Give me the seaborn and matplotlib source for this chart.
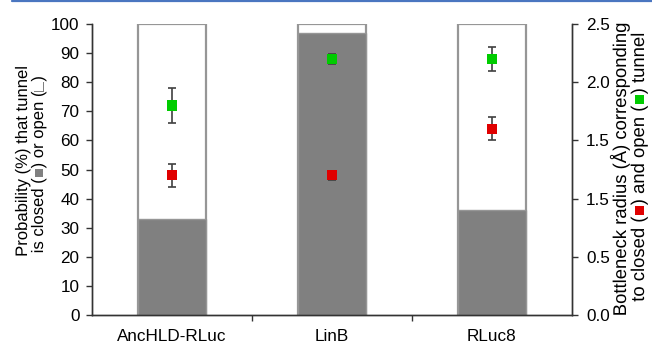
import matplotlib
matplotlib.use("Agg")
import matplotlib.pyplot as plt
from matplotlib import _text_helpers
from matplotlib.lines import Line2D
from matplotlib.patches import PathPatch
from matplotlib.textpath import TextPath
from matplotlib.transforms import Affine2D
from matplotlib.ticker import FixedLocator, FixedFormatter
from matplotlib.font_manager import FontProperties, fontManager, get_font
import seaborn as sns
import pandas as pd

# ── Data ──────────────────────────────────────────────────────────────────
enzymes      = ["AncHLD-RLuc", "LinB", "RLuc8"]
closed_pct   = [33, 97, 36]          # probability (%) tunnel is closed
total_pct    = [100, 100, 100]       # closed + open
radius_open  = [1.8, 2.2, 2.2]       # bottleneck radius (Å), open tunnel
err_open     = [0.15, 0.04, 0.1]
radius_close = [1.2, 1.2, 1.6]       # bottleneck radius (Å), closed tunnel
err_close    = [0.1, 0.04, 0.1]
right_ticks  = [0.0, 0.5, 1.0, 1.5, 2.0, 2.5]
right_labels = ["0.0", "0.5", "1.5", "1.5", "2.0", "2.5"]   # as printed

sns.set_theme(style="ticks")
FAM = ["Liberation Sans", "DejaVu Sans"]
plt.rcParams["font.family"] = FAM

GRAY   = "#808080"
EDGE   = "#969696"
GREEN  = "#00cc00"
RED    = "#e00000"
AXCOL  = "#333333"
TICKFS = 12.3

df = pd.DataFrame({"enzyme": enzymes, "closed": closed_pct, "total": total_pct})

W, H = 652, 344
fig = plt.figure(figsize=(W / 100, H / 100), dpi=100)
ax = fig.add_axes([92 / W, 1 - 315 / H, 480 / W, 291 / H])

# open part (full-height white box) then closed part on top
sns.barplot(data=df, x="enzyme", y="total", color="white", saturation=1,
            edgecolor=EDGE, linewidth=1.6, width=0.42, ax=ax)
sns.barplot(data=df, x="enzyme", y="closed", color=GRAY, saturation=1,
            edgecolor=EDGE, linewidth=1.0, width=0.42, ax=ax)

ax.set_xlim(-0.5, 2.5)
ax.set_ylim(0, 100)
ax.set_yticks(range(0, 101, 10))
ax.set_xlabel("")
ax.set_ylabel("")
ax.spines["top"].set_visible(False)
for s in ["left", "right", "bottom"]:
    ax.spines[s].set_color(AXCOL)
    ax.spines[s].set_linewidth(1.0)
ax.tick_params(axis="x", which="major", length=0, pad=10, labelsize=TICKFS, colors="black")
ax.xaxis.set_minor_locator(FixedLocator([0.5, 1.5]))
ax.tick_params(axis="x", which="minor", length=4, width=1.0, color=AXCOL, direction="out")
ax.tick_params(axis="y", length=4, width=1.0, color=AXCOL, direction="out",
               pad=5, labelsize=TICKFS, labelcolor="black")

# radius points on the right axis
ax2 = ax.twinx()
ax2.set_ylim(0, 2.5)
x = list(range(len(enzymes)))
ax2.errorbar(x, radius_open, yerr=err_open, fmt="none", ecolor="#404040",
             elinewidth=1.2, capsize=3, capthick=1.2, zorder=3)
ax2.errorbar(x, radius_close, yerr=err_close, fmt="none", ecolor="#404040",
             elinewidth=1.2, capsize=3, capthick=1.2, zorder=3)
pts = pd.DataFrame({"x": x * 2, "r": radius_open + radius_close,
                    "kind": ["open"] * 3 + ["closed"] * 3})
sns.scatterplot(data=pts, x="x", y="r", hue="kind", palette={"open": GREEN, "closed": RED},
                marker="s", s=55, linewidth=0, legend=False, ax=ax2, zorder=4)
ax2.set_xlim(-0.5, 2.5)
ax2.set_xlabel("")
ax2.set_ylabel("")
ax2.yaxis.set_major_locator(FixedLocator(right_ticks))
ax2.yaxis.set_major_formatter(FixedFormatter(right_labels))
ax2.tick_params(axis="y", length=4, width=1.0, color=AXCOL, direction="out",
                pad=6, labelsize=TICKFS, labelcolor="black")
ax2.spines["top"].set_visible(False)
for s in ["left", "right", "bottom"]:
    ax2.spines[s].set_color(AXCOL)
    ax2.spines[s].set_linewidth(1.0)


# ── rotated axis labels with coloured square glyphs ───────────────────────
# drawn as text paths so the coloured pieces sit exactly at their pen positions
def vlabel(x_px, yc_px, parts, size=12):
    prop = FontProperties(family=FAM, size=size)
    spx = size * 100 / 72
    font = get_font(fontManager._find_fonts_by_props(prop))
    font.set_size(spx, 72)
    full = "".join(p for p, _ in parts)
    pens = [it.x for it in _text_helpers.layout(full, font)]
    total = TextPath((0, 0), full, size=spx, prop=prop).get_extents().x1
    y0 = (H - yc_px) - total / 2
    tr = Affine2D().rotate_deg(90).translate(x_px, y0)
    i = 0
    for s, c in parts:
        drop = 0.05 * spx if s in "■□" else 0   # centre squares between the brackets
        path = TextPath((pens[i], -drop), s, size=spx, prop=prop)
        i += len(s)
        fig.add_artist(PathPatch(path, transform=tr, facecolor=c,
                                 edgecolor="none", lw=0))


vlabel(27, 162, [("Probability (%) that tunnel", "black")])
vlabel(43, 165, [("is closed (", "black"), ("■", GRAY), (") or open (", "black"),
                 ("□", GRAY), (")", "black")])
vlabel(626, 170, [("Bottleneck radius (Å) corresponding", "black")], size=13.3)
vlabel(644, 168, [("to closed (", "black"), ("■", RED), (") and open (", "black"),
                  ("■", GREEN), (") tunnel", "black")], size=13.3)

# thin blue rule along the top edge
fig.add_artist(Line2D([12 / W, 1], [1 - 1 / H, 1 - 1 / H], color="#4a76c0", lw=1.6))

fig.savefig("out.png", dpi=100)
